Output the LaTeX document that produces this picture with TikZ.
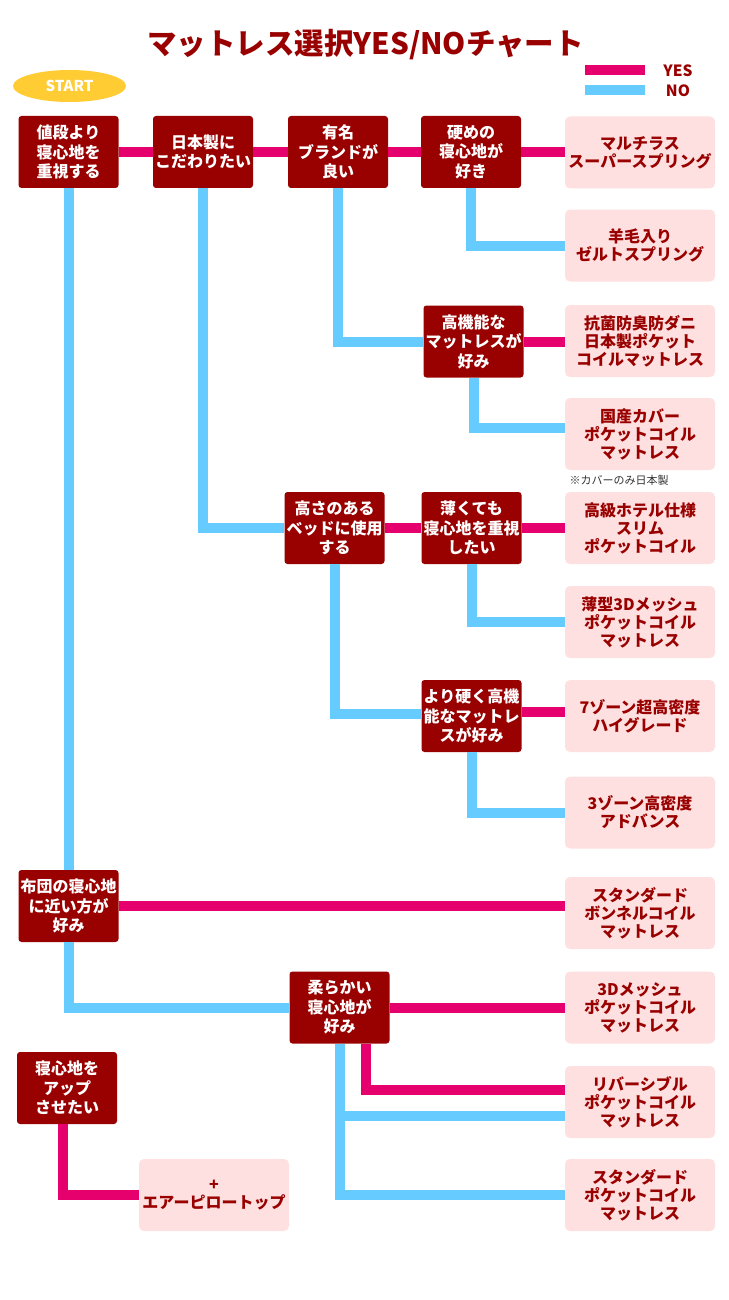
\documentclass[tikz,border=0pt]{standalone}
\usepackage{fontspec}
\setmainfont{Noto Sans CJK JP}
\usetikzlibrary{shapes.geometric}

\definecolor{boxred}{HTML}{990000}
\definecolor{resultpink}{HTML}{FFE0E0}
\definecolor{yespink}{HTML}{E6006E}
\definecolor{noblue}{HTML}{66CCFF}
\definecolor{startyellow}{HTML}{FFCC33}

\begin{document}
\begin{tikzpicture}[x=1pt,y=-1pt,
	question/.style={fill=boxred, text=white, rounded corners=3pt, minimum width=100pt, minimum height=72pt, inner sep=0pt, align=center, font=\fontsize{16}{19.5}\selectfont\bfseries},
	result/.style={fill=resultpink, text=boxred, rounded corners=5pt, minimum width=150pt, minimum height=72pt, inner sep=0pt, align=center, font=\fontsize{16}{18}\selectfont\bfseries},
	yes/.style={draw=yespink, line width=10pt},
	no/.style={draw=noblue, line width=10pt}]

	\fill[white] (0,0) rectangle (728,1300);
	\useasboundingbox (0,0) rectangle (728,1300);

	\node[text=boxred, font=\fontsize{29.5}{31}\selectfont\bfseries] (title) at (365.5, 45) {マットレス選択YES/NOチャート};

	\draw[yes] (585,70.5) -- ++(60,0);
	\draw[no] (585,90.5) -- ++(60,0);
	\node[text=boxred, font=\fontsize{15.5}{17}\selectfont\bfseries] (yeslabel) at (678, 70.5) {YES};
	\node[text=boxred, font=\fontsize{15.5}{17}\selectfont\bfseries] (nolabel) at (678, 91) {NO};

	\node[ellipse, fill=startyellow, text=white, minimum width=113pt, minimum height=32pt, inner sep=0pt, font=\fontsize{15}{17}\selectfont\bfseries] (start) at (69.5, 86) {START};

	\node[question] (price) at (68.5, 152) {値段より\\寝心地を\\重視する};
	\node[question] (madeinjp) at (203, 152) {日本製に\\こだわりたい};
	\node[question] (brand) at (338, 152) {有名\\ブランドが\\良い};
	\node[question] (firm) at (471, 152) {硬めの\\寝心地が\\好き};
	\node[question] (highperf) at (473.5, 341.5) {高機能な\\マットレスが\\好み};
	\node[question] (tall) at (334.5, 528) {高さのある\\ベッドに使用\\する};
	\node[question] (thin) at (471.5, 528) {薄くても\\寝心地を重視\\したい};
	\node[question] (harder) at (471.5, 716) {より硬く高機\\能なマットレ\\スが好み};
	\node[question] (futon) at (68.5, 906) {布団の寝心地\\に近い方が\\好み};
	\node[question] (soft) at (339.5, 1007.5) {柔らかい\\寝心地が\\好み};
	\node[question] (upgrade) at (67, 1088) {寝心地を\\アップ\\させたい};

	\node[result] (multi) at (640, 152.5) {マルチラス\\スーパースプリング};
	\node[result] (wool) at (640, 245.5) {羊毛入り\\ゼルトスプリング};
	\node[result] (antibac) at (640, 341) {抗菌防臭防ダニ\\日本製ポケット\\コイルマットレス};
	\node[result] (domestic) at (640, 434) {国産カバー\\ポケットコイル\\マットレス};
	\node[anchor=west, text=black!80, font=\fontsize{11}{13}\selectfont] (note) at (566, 480) {※カバーのみ日本製};
	\node[result] (hotel) at (640, 528) {高級ホテル仕様\\スリム\\ポケットコイル};
	\node[result] (thinmesh) at (640, 622) {薄型3Dメッシュ\\ポケットコイル\\マットレス};
	\node[result] (zoneseven) at (640, 716) {7ゾーン超高密度\\ハイグレード};
	\node[result] (zonethree) at (640, 812.5) {3ゾーン高密度\\アドバンス};
	\node[result] (bonnel) at (640, 913) {スタンダード\\ボンネルコイル\\マットレス};
	\node[result] (mesh) at (640, 1007.5) {3Dメッシュ\\ポケットコイル\\マットレス};
	\node[result] (reversible) at (640, 1102) {リバーシブル\\ポケットコイル\\マットレス};
	\node[result] (stdpocket) at (640, 1195) {スタンダード\\ポケットコイル\\マットレス};
	\node[result] (airpillow) at (214, 1195) {+\\エアーピロートップ};

	\draw[yes] (price) -- (madeinjp);
	\draw[yes] (madeinjp) -- (brand);
	\draw[yes] (brand) -- (firm);
	\draw[yes] (firm.east) -- (firm.east -| multi.west);
	\draw[yes] (highperf.east) -- (highperf.east -| antibac.west);
	\draw[yes] (tall) -- (thin);
	\draw[yes] (thin) -- (hotel);
	\draw[yes] ([yshift=4pt]harder.east) -- ([yshift=4pt]harder.east -| zoneseven.west);
	\draw[yes] (futon.east) -- (futon.east -| bonnel.west);
	\draw[yes] (soft) -- (mesh);
	\draw[yes] ([xshift=26pt]soft.south) |- ([yshift=12pt]reversible.west);
	\draw[yes] ([xshift=-4pt]upgrade.south) |- (airpillow.west);

	\draw[no] (price.south) -- (futon.north);
	\draw[no] (madeinjp.south) |- (tall.west);
	\draw[no] (brand.south) |- (highperf.west);
	\draw[no] (firm.south) |- (wool.west);
	\draw[no] (highperf.south) |- ([yshift=6pt]domestic.west);
	\draw[no] (thin.south) |- (thinmesh.west);
	\draw[no] (tall.south) |- ([yshift=2pt]harder.west);
	\draw[no] (harder.south) |- (zonethree.west);
	\draw[no] (futon.south) |- (soft.west);
	\draw[no] (soft.south) |- ([yshift=-14pt]reversible.west);
	\draw[no] (soft.south) |- (stdpocket.west);

\end{tikzpicture}
\end{document}
